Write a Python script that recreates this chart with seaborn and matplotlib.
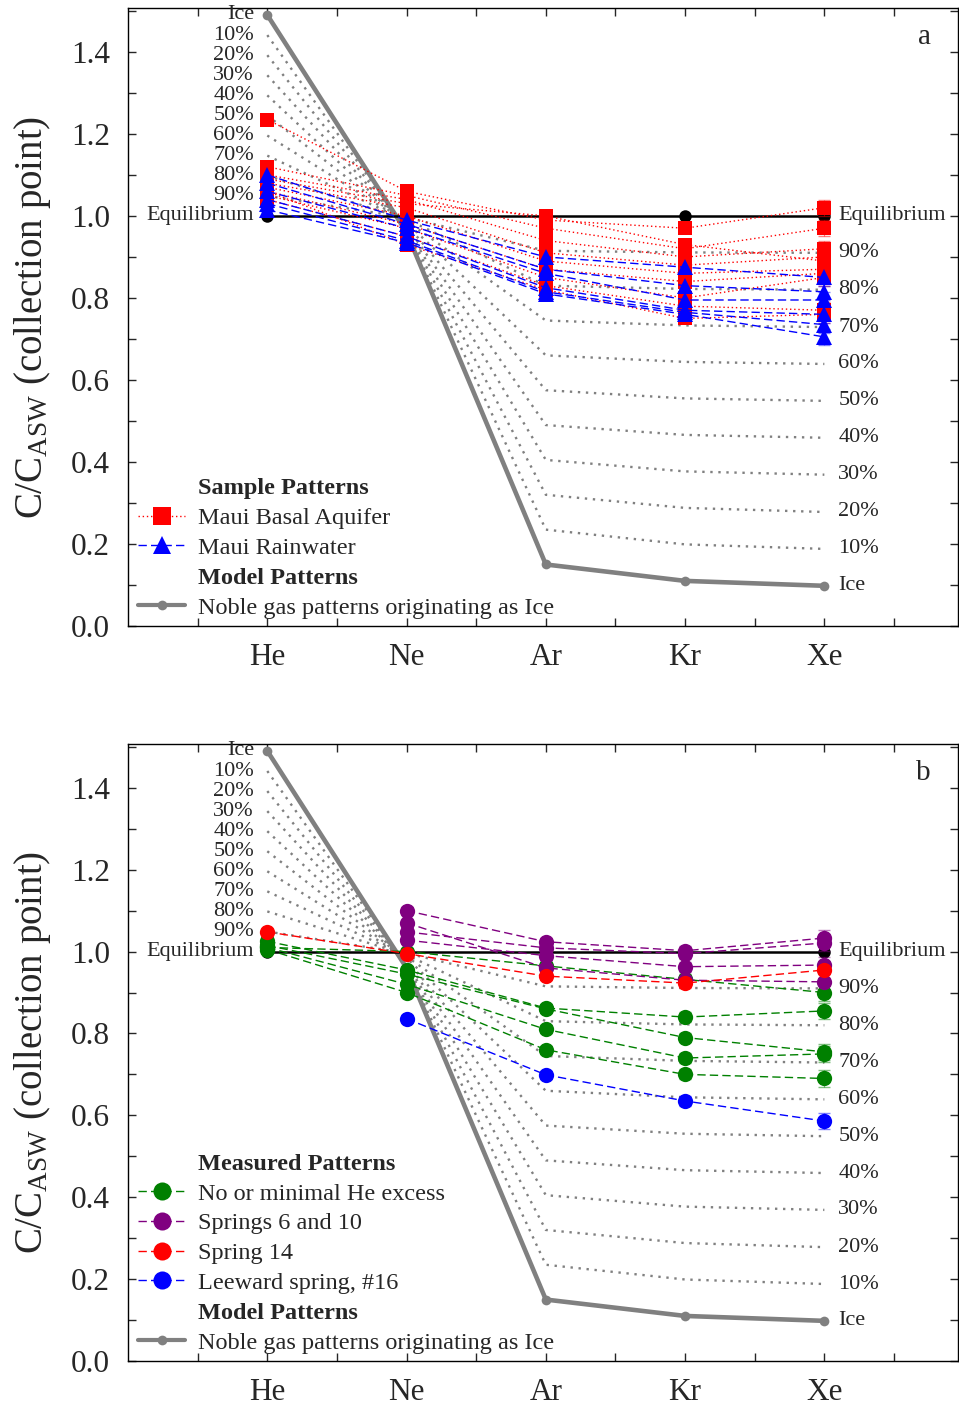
import numpy as np
import pandas as pd
import matplotlib
matplotlib.use("Agg")
import matplotlib.pyplot as plt
import seaborn as sns
from matplotlib.lines import Line2D

# --- DATA ---
GASES = ['He', 'Ne', 'Ar', 'Kr', 'Xe']
POS = [1, 2, 3, 4, 5]

ICE = [1.49, 0.96, 0.15, 0.11, 0.098]
EQUILIBRIUM = [1.0, 1.0, 1.0, 1.0, 1.0]

# ice / equilibrium mixtures, labelled by % equilibrium water
MIX = {
    '10%': [1.441, 0.964, 0.235, 0.199, 0.188],
    '20%': [1.392, 0.968, 0.320, 0.288, 0.278],
    '30%': [1.343, 0.972, 0.405, 0.377, 0.369],
    '40%': [1.294, 0.976, 0.490, 0.466, 0.459],
    '50%': [1.245, 0.980, 0.575, 0.555, 0.549],
    '60%': [1.196, 0.984, 0.660, 0.644, 0.639],
    '70%': [1.147, 0.988, 0.745, 0.733, 0.729],
    '80%': [1.098, 0.992, 0.830, 0.822, 0.820],
    '90%': [1.049, 0.996, 0.915, 0.911, 0.910],
}

# panel a
BASAL = [
    [1.235, 1.06, 0.99, 0.97, 1.02],
    [1.12, 1.05, 0.97, 0.92, 0.97],
    [1.10, 1.04, 0.94, 0.90, 0.92],
    [1.09, 1.03, 1.00, 0.93, 0.89],
    [1.08, 1.02, 0.91, 0.88, 0.90],
    [1.07, 1.00, 0.89, 0.86, 0.87],
    [1.06, 0.98, 0.87, 0.84, 0.86],
    [1.05, 0.97, 0.85, 0.80, 0.85],
    [1.04, 0.95, 0.83, 0.78, 0.77],
    [1.06, 0.93, 0.82, 0.75, 0.76],
]
RAIN = [
    [1.10, 0.99, 0.90, 0.875, 0.85],
    [1.08, 0.98, 0.87, 0.83, 0.815],
    [1.06, 0.97, 0.86, 0.795, 0.795],
    [1.04, 0.95, 0.825, 0.77, 0.76],
    [1.03, 0.94, 0.815, 0.765, 0.735],
    [1.015, 0.935, 0.81, 0.76, 0.705],
]

# panel b
NO_EXCESS = [
    [1.01, 1.00, 0.965, 0.932, 0.90],
    [1.025, 0.955, 0.862, 0.84, 0.855],
    [1.015, 0.945, 0.86, 0.79, 0.755],
    [1.01, 0.92, 0.81, 0.74, 0.75],
    [1.005, 0.90, 0.76, 0.70, 0.69],
]
SPRINGS_6_10 = [
    [np.nan, 1.10, 1.024, 1.002, 1.033],
    [np.nan, 1.07, 0.96, 0.93, 0.926],
    [np.nan, 1.048, 1.009, 0.995, 1.021],
    [np.nan, 1.028, 0.99, 0.963, 0.967],
]
SPRING_14 = [[1.048, 0.995, 0.94, 0.923, 0.955]]
LEEWARD_16 = [[np.nan, 0.836, 0.699, 0.635, 0.586]]

ERR = [0.005, 0.008, 0.01, 0.012, 0.02]

LEFT_LABELS = ['Ice'] + list(MIX.keys()) + ['Equilibrium']
RIGHT_LABELS = ['Ice'] + list(MIX.keys()) + ['Equilibrium']

# --- STYLE ---
sns.set_theme(style="ticks")
plt.rcParams['font.family'] = ['Liberation Serif', 'DejaVu Serif']
plt.rcParams['mathtext.fontset'] = 'custom'
plt.rcParams['mathtext.rm'] = 'Liberation Serif'
plt.rcParams['mathtext.it'] = 'Liberation Serif:italic'

GREY = '#808080'
RED = '#ff0000'
BLUE = '#0000ff'
GREEN = '#008000'
PURPLE = '#800080'


def to_long(rows):
    recs = []
    for i, row in enumerate(rows):
        for p, v in zip(POS, row):
            recs.append({'sample': i, 'pos': p, 'value': v})
    return pd.DataFrame(recs).dropna()


def draw_samples(ax, rows, color, ls, marker, ms):
    df = to_long(rows)
    for _, sub in df.groupby('sample'):
        ax.errorbar(sub['pos'], sub['value'], yerr=[ERR[p - 1] for p in sub['pos']],
                    fmt='none', ecolor=color, elinewidth=0.8, capsize=4, alpha=0.5, zorder=4)
    sns.lineplot(data=df, x='pos', y='value', units='sample', estimator=None, sort=False,
                 color=color, linestyle=ls, lw=1.0, marker=marker, markersize=ms,
                 markeredgewidth=0, ax=ax, legend=False, zorder=5)


def draw_models(ax):
    mix = pd.DataFrame([{'mix': k, 'pos': p, 'value': v}
                        for k, vals in MIX.items() for p, v in zip(POS, vals)])
    sns.lineplot(data=mix, x='pos', y='value', units='mix', estimator=None,
                 color=GREY, lw=1.7, linestyle=(0, (1, 2.4)), ax=ax, legend=False, zorder=2)
    sns.lineplot(x=POS, y=ICE, color=GREY, lw=3.3, marker='o', markersize=7,
                 markeredgewidth=0, ax=ax, zorder=3)
    sns.lineplot(x=POS, y=EQUILIBRIUM, color='black', lw=1.8, marker='o', markersize=9,
                 markeredgewidth=0, ax=ax, zorder=3)

    # curve labels
    left_y = [ICE[0]] + [v[0] for v in MIX.values()] + [EQUILIBRIUM[0]]
    for lab, y in zip(LEFT_LABELS, left_y):
        ax.text(POS[0] - 0.095, y, lab, ha='right', va='center', fontsize=16)
    right_y = [ICE[-1]] + [v[-1] for v in MIX.values()] + [EQUILIBRIUM[-1]]
    for lab, y in zip(RIGHT_LABELS, right_y):
        ax.text(POS[-1] + 0.1, y, lab, ha='left', va='center', fontsize=16)


def style_axes(ax, letter):
    ax.set_xlim(0.0, 5.96)
    ax.set_ylim(0.0, 1.507)
    ax.set_xticks(POS, GASES)
    ax.set_xticks(np.arange(0.5, 6.0, 0.5), minor=True)
    ax.set_yticks(np.arange(0.0, 1.41, 0.2), [f'{v:.1f}' for v in np.arange(0.0, 1.41, 0.2)])
    ax.set_yticks(np.arange(0.1, 1.51, 0.1), minor=True)
    ax.tick_params(which='both', direction='in', top=True, right=True, length=6, width=1)
    ax.tick_params(axis='both', which='major', labelsize=22.5)
    ax.tick_params(axis='y', pad=13)
    ax.tick_params(axis='x', pad=12)
    ax.set_xlabel('')
    ax.set_ylabel(r'C/C$_{\mathregular{ASW}}$ (collection point)', fontsize=28, labelpad=13)
    for s in ax.spines.values():
        s.set_linewidth(1.0)
        s.set_color('black')
    ax.text(0.967, 0.953, letter, transform=ax.transAxes, ha='right', va='center', fontsize=21)


def add_legend(ax, heading, entries):
    handles = [Line2D([], [], linestyle='none')]
    labels = [heading]
    for lab, color, ls, marker, ms in entries:
        handles.append(Line2D([], [], color=color, linestyle=ls, lw=1.0, marker=marker,
                              markersize=ms, markeredgewidth=0))
        labels.append(lab)
    handles.append(Line2D([], [], linestyle='none'))
    labels.append('Model Patterns')
    handles.append(Line2D([], [], color=GREY, lw=3.0, marker='o', markersize=7, markeredgewidth=0))
    labels.append('Noble gas patterns originating as Ice')
    leg = ax.legend(handles, labels, loc='lower left', bbox_to_anchor=(0.012, 0.012),
                    frameon=False, fontsize=17.5, borderpad=0, borderaxespad=0,
                    handlelength=1.95, handletextpad=0.5, labelspacing=0.32)
    for t in leg.get_texts():
        if t.get_text() in (heading, 'Model Patterns'):
            t.set_fontweight('bold')


fig = plt.figure(figsize=(9.59, 14.08), dpi=100)
ax_a = fig.add_axes([0.1335, 0.5554, 0.8655, 0.4389])
ax_b = fig.add_axes([0.1335, 0.0334, 0.8655, 0.4382])

# panel a
draw_models(ax_a)
draw_samples(ax_a, BASAL, RED, (0, (1, 2)), 's', 10)
draw_samples(ax_a, RAIN, BLUE, (0, (6, 3)), '^', 12)
style_axes(ax_a, 'a')
add_legend(ax_a, 'Sample Patterns', [
    ('Maui Basal Aquifer', RED, (0, (1, 2)), 's', 13),
    ('Maui Rainwater', BLUE, (0, (6, 3)), '^', 13),
])

# panel b
draw_models(ax_b)
draw_samples(ax_b, NO_EXCESS, GREEN, (0, (6, 3)), 'o', 11)
draw_samples(ax_b, SPRINGS_6_10, PURPLE, (0, (6, 3)), 'o', 11)
draw_samples(ax_b, SPRING_14, RED, (0, (6, 3)), 'o', 11)
draw_samples(ax_b, LEEWARD_16, BLUE, (0, (6, 3)), 'o', 11)
style_axes(ax_b, 'b')
add_legend(ax_b, 'Measured Patterns', [
    ('No or minimal He excess', GREEN, (0, (6, 3)), 'o', 13),
    ('Springs 6 and 10', PURPLE, (0, (6, 3)), 'o', 13),
    ('Spring 14', RED, (0, (6, 3)), 'o', 13),
    ('Leeward spring, #16', BLUE, (0, (6, 3)), 'o', 13),
])

fig.savefig('out.png', dpi=100)
